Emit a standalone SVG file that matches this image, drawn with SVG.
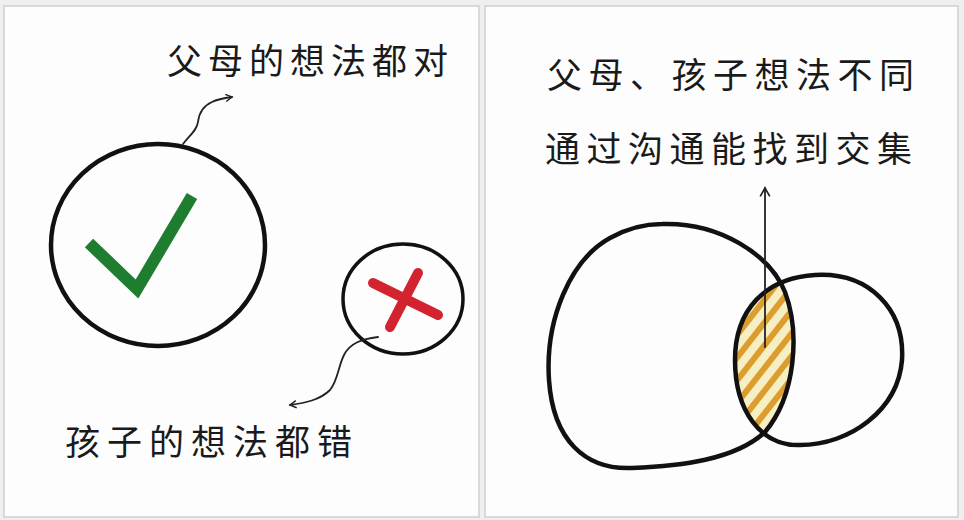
<svg xmlns="http://www.w3.org/2000/svg" width="964" height="520" viewBox="0 0 964 520">
<style>
.panel{fill:#fdfdfd;stroke:#cfcfcf;stroke-width:1.5}
.ring{fill:none;stroke:#111;stroke-width:4.5;stroke-linecap:round;stroke-linejoin:round}
.arr{fill:none;stroke:#222;stroke-width:1.8;stroke-linecap:round;stroke-linejoin:round}
.lbl{font-family:"Noto Sans CJK SC","Noto Sans CJK TC",sans-serif;font-size:35px;fill:#1a1a1a;font-weight:400}
</style>
<defs>
<marker id="ah" viewBox="0 0 10 10" refX="8" refY="5" markerWidth="9" markerHeight="9" orient="auto" markerUnits="userSpaceOnUse">
<path d="M1 1 L8 5 L1 9" fill="none" stroke="#222" stroke-width="1.6"/>
</marker>
<marker id="ah2" viewBox="0 0 10 10" refX="8" refY="5" markerWidth="12" markerHeight="12" orient="auto" markerUnits="userSpaceOnUse">
<path d="M1 1 L8 5 L1 9" fill="none" stroke="#222" stroke-width="1.4"/>
</marker>
<pattern id="stripes" width="14" height="14" patternUnits="userSpaceOnUse" patternTransform="rotate(-52)">
<rect width="14" height="14" fill="#f7efc4"/>
<rect x="0" y="0" width="14" height="6" fill="#dc9c2e"/>
</pattern>
<clipPath id="bigclip">
<path d="M662 224 C720 222,770 255,785 292 C800 332,796 395,765 432 C735 460,680 466,632 468 C585 470,553 440,549 380 C545 320,570 260,610 238 C628 228,645 224,662 224 Z"/>
</clipPath>
</defs>
<rect width="964" height="520" fill="#efefef"/>
<rect class="panel" x="4" y="6" width="475" height="511"/>
<rect class="panel" x="485" y="6" width="473" height="511"/>

<g id="parents-right">
<ellipse class="ring" cx="158" cy="245" rx="107" ry="101"/>
<path d="M89 243 L137 289 L192 196" fill="none" stroke="#1f7d30" stroke-width="12" stroke-linejoin="miter" stroke-linecap="butt"/>
</g>
<g id="child-wrong">
<ellipse class="ring" cx="403" cy="299" rx="60" ry="55" style="stroke-width:3.5"/>
<path d="M373 283 L438 315 M418 273 L390 327" fill="none" stroke="#d2232f" stroke-width="10" stroke-linecap="round"/>
</g>
<g id="venn">
<path d="M815 275 C870 272,905 310,902 360 C898 410,850 445,800 445 C760 446,735 410,735 360 C735 310,765 278,815 275 Z" fill="url(#stripes)" clip-path="url(#bigclip)"/>
<path class="ring" d="M662 224 C720 222,770 255,785 292 C800 332,796 395,765 432 C735 460,680 466,632 468 C585 470,553 440,549 380 C545 320,570 260,610 238 C628 228,645 224,662 224 Z"/>
<path class="ring" d="M815 275 C870 272,905 310,902 360 C898 410,850 445,800 445 C760 446,735 410,735 360 C735 310,765 278,815 275 Z"/>
</g>
<g id="connectors">
<path class="arr" d="M183 144 C190 135,197 130,198 122 C199 113,203 106,212 102 C218 99,225 98,232 97" marker-end="url(#ah)"/>
<path class="arr" d="M378 337 C362 339,350 343,344 355 C338 367,338 380,330 390 C320 400,305 403,290 405" marker-end="url(#ah)"/>
<path class="arr" d="M765 347 L765 188" marker-end="url(#ah2)"/>
</g>
<g id="labels">
<text class="lbl" x="167" y="74" letter-spacing="6">父母的想法都对</text>
<text class="lbl" x="65" y="455" letter-spacing="7">孩子的想法都错</text>
<text class="lbl" x="547" y="88" letter-spacing="6.5">父母、孩子想法不同</text>
<text class="lbl" x="545" y="162" letter-spacing="6.5">通过沟通能找到交集</text>
</g>
</svg>
